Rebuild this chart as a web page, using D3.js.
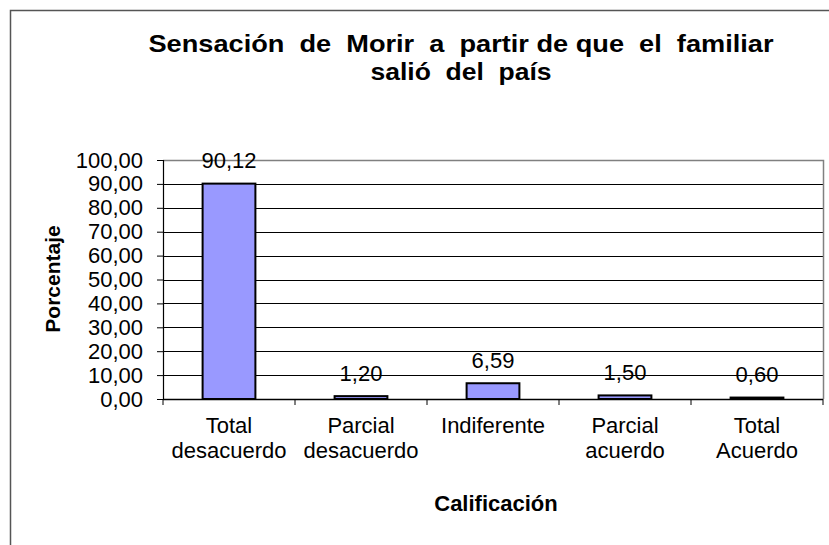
<!DOCTYPE html>
<html><head><meta charset="utf-8">
<script src="https://cdn.jsdelivr.net/npm/d3@7"></script>
<style>body{margin:0;background:#fff}svg{display:block}text{font-family:"Liberation Sans",Arial,sans-serif}</style>
</head><body><svg id="c" width="829" height="545"></svg>
<script>
const categories = [["Total","desacuerdo"],["Parcial","desacuerdo"],["Indiferente"],["Parcial","acuerdo"],["Total","Acuerdo"]];
const values = [90.12, 1.20, 6.59, 1.50, 0.60];
const yTicks = [0,10,20,30,40,50,60,70,80,90,100];
const titleLines = ["Sensación  de  Morir  a  partir de que  el  familiar", "salió  del  país"];
const yTitle = "Porcentaje";
const xTitle = "Calificación";

const svg = d3.select("#c");
const fmt = v => d3.format(".2f")(v).replace(".", ",");
const L = 163, R = 823, T = 160, B = 399;
const x = d3.scaleBand().domain(d3.range(categories.length)).range([L, R]).paddingInner(0.6).paddingOuter(0.3);
const xb = d3.scaleBand().domain(d3.range(categories.length)).range([L, R]);
const y = d3.scaleLinear().domain([0, 100]).range([B, T]);
const FS = 22;

// outer border
svg.append("path").attr("d", `M10.5,545 V10.5 H829`).attr("fill","none").attr("stroke","#555").attr("stroke-width",1.5);

// gridlines
svg.append("g").selectAll("line").data(yTicks.filter(t => t > 0 && t < 100)).join("line")
  .attr("x1", L).attr("x2", R).attr("y1", d => Math.round(y(d))+0.5).attr("y2", d => Math.round(y(d))+0.5)
  .attr("stroke", "#000").attr("stroke-width", 1);
// plot border (top/right gray)
svg.append("path").attr("d", `M${L},${T+0.5} H${R+0.5} V${B}`).attr("fill","none").attr("stroke","#808080").attr("stroke-width",1.5);

// bars
svg.append("g").selectAll("rect").data(values).join("rect")
  .attr("x", (d,i) => x(i)).attr("width", x.bandwidth())
  .attr("y", d => y(d)).attr("height", d => Math.max(0, B - y(d)))
  .attr("fill", "#9999ff").attr("stroke", "#000").attr("stroke-width", 2);

// y axis
const ya = d3.axisLeft(y).tickValues(yTicks).tickFormat(fmt).tickSize(6).tickPadding(14);
const gy = svg.append("g").attr("transform", `translate(${L},0)`).call(ya);
gy.select(".domain").attr("stroke","#000").attr("stroke-width",1.2);
gy.selectAll(".tick line").attr("stroke","#000");
gy.selectAll("text").attr("font-size", FS).attr("fill","#000").attr("font-family","Liberation Sans, Arial, sans-serif");

// x axis
const gx = svg.append("g").attr("transform", `translate(0,${B})`);
gx.append("line").attr("x1", L).attr("x2", R).attr("y1", 0.5).attr("y2", 0.5).attr("stroke","#000").attr("stroke-width",1.5);
gx.selectAll("line.t").data(d3.range(categories.length + 1)).join("line").attr("class","t")
  .attr("x1", i => i < categories.length ? xb(i) : R).attr("x2", i => i < categories.length ? xb(i) : R)
  .attr("y1", 0).attr("y2", 6).attr("stroke","#000");
gx.selectAll("text").data(categories).join("text")
  .attr("text-anchor","middle").attr("font-size",FS).attr("fill","#000")
  .attr("transform", (d,i) => `translate(${xb(i) + xb.bandwidth()/2},0)`)
  .selectAll("tspan").data(d => d).join("tspan")
  .attr("x", 0).attr("y", (d,j) => 34 + j*25).text(d => d);

// data labels
svg.append("g").selectAll("text").data(values).join("text")
  .attr("x", (d,i) => x(i) + x.bandwidth()/2).attr("y", d => y(d) - 15.5)
  .attr("text-anchor","middle").attr("font-size",FS).attr("fill","#000").text(fmt);

// title
const titleTargets = [625, 181];
titleLines.forEach((line, i) => {
  svg.append("text").attr("x", 461).attr("y", 52 + i*28).attr("text-anchor","middle")
    .attr("font-size",24).attr("font-weight","bold").style("white-space","pre")
    .attr("textLength", titleTargets[i]).attr("lengthAdjust","spacingAndGlyphs").text(line);
});

// axis titles
svg.append("text").attr("transform", `translate(60,279) rotate(-90)`).attr("text-anchor","middle")
  .attr("font-size",21).attr("font-weight","bold").text(yTitle);
svg.append("text").attr("x", 496).attr("y", 511).attr("text-anchor","middle")
  .attr("font-size",22).attr("font-weight","bold").text(xTitle);
</script></body></html>
